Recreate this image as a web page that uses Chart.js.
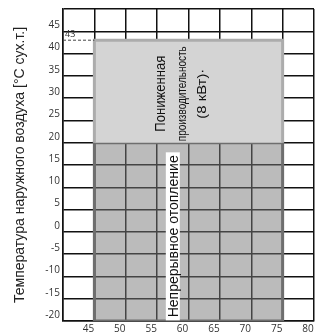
<!DOCTYPE html>
<html>
<head>
<meta charset="utf-8">
<script src="https://cdn.jsdelivr.net/npm/chart.js@4.4.1/dist/chart.umd.min.js"></script>
<style>
  html, body { margin: 0; padding: 0; background: #fff; }
  #wrap { width: 322px; height: 333px; position: relative; }
</style>
</head>
<body>
<div id="wrap"><canvas id="chart"></canvas></div>
<script>
// Water temperature range (x) and outdoor temperature bands (y)
const waterRange   = [45, 75];
const heatingBand  = [-20, 20];   // Непрерывное отопление
const reducedBand  = [20, 43];    // Пониженная производительность
const xTickLabels  = [45, 50, 55, 60, 65, 70, 75, 80];
const yTickLabels  = [45, 40, 35, 30, 25, 20, 15, 10, 5, 0, -5, -10, -15, -20];
const xAxisRange   = [40, 80];
const yAxisRange   = [-20, 50];

const boxPoints = (band) => [
    { x: waterRange[0], y: band[0] },
    { x: waterRange[0], y: band[1] },
    { x: waterRange[1], y: band[1] },
    { x: waterRange[1], y: band[0] }
];

// text labels drawn on top of the boxes
const textPlugin = {
    id: 'boxText',
    afterDatasetsDraw(chart) {
        const { ctx, scales: { x, y } } = chart;

        const rotated = (text, vx, vy, font, len, bg) => {
            ctx.save();
            ctx.translate(x.getPixelForValue(vx), y.getPixelForValue(vy));
            ctx.rotate(-Math.PI / 2);
            ctx.font = font;
            ctx.textAlign = 'center';
            ctx.textBaseline = 'middle';
            const w = ctx.measureText(text).width;
            if (len) ctx.scale(len / w, 1);
            if (bg) {
                ctx.fillStyle = bg;
                ctx.fillRect(-w / 2 - 3, -7, w + 6, 14);
            }
            ctx.fillStyle = '#111';
            ctx.fillText(text, 0, 1);
            ctx.restore();
        };

        rotated('Пониженная', 55.5, 31, '14px "Liberation Sans"', 76);
        rotated('производительность', 58.9, 31, '12px "Liberation Sans"', 95);
        rotated('(8 кВт)·', 62.1, 31, '13px "Liberation Sans"', 50);
        rotated('Непрерывное отопление', 57.5, -1, '14px "Liberation Sans"', 162, '#fff');

        // "43" marker above the dashed line
        ctx.save();
        ctx.font = '9px "Open Sans"';
        ctx.fillStyle = '#333';
        ctx.textAlign = 'left';
        ctx.textBaseline = 'bottom';
        ctx.fillText(String(reducedBand[1]), x.getPixelForValue(xAxisRange[0]) + 2, y.getPixelForValue(reducedBand[1]) - 1);
        ctx.restore();
    }
};

new Chart(document.getElementById('chart'), {
    type: 'scatter',
    data: {
        datasets: [
            {
                // continuous heating box (semi-transparent so the grid shows through)
                data: boxPoints(heatingBand),
                showLine: true,
                fill: { value: heatingBand[0] },
                backgroundColor: 'rgba(120,120,120,0.5)',
                borderColor: '#6e6e6e',
                borderWidth: 3,
                pointRadius: 0,
                order: 4
            },
            {
                // bottom edge of the heating box
                data: [{ x: waterRange[0], y: heatingBand[0] }, { x: waterRange[1], y: heatingBand[0] }],
                showLine: true,
                borderColor: '#6e6e6e',
                borderWidth: 3,
                pointRadius: 0,
                order: 3
            },
            {
                // reduced capacity box
                data: boxPoints(reducedBand),
                showLine: true,
                fill: { value: reducedBand[0] },
                backgroundColor: '#d4d4d4',
                borderColor: '#acacac',
                borderWidth: 3,
                pointRadius: 0,
                order: 2
            },
            {
                // dashed level line
                data: [{ x: xAxisRange[0], y: reducedBand[1] }, { x: waterRange[0], y: reducedBand[1] }],
                showLine: true,
                borderColor: '#444',
                borderWidth: 1,
                borderDash: [3, 2],
                pointRadius: 0,
                order: 1
            }
        ]
    },
    options: {
        responsive: true,
        maintainAspectRatio: false,
        animation: false,
        layout: { padding: { top: 4, right: 8, left: 0, bottom: 0 } },
        plugins: {
            legend: { display: false },
            tooltip: { enabled: false }
        },
        scales: {
            x: {
                type: 'linear',
                min: xAxisRange[0],
                max: xAxisRange[1],
                afterFit: s => { s.height = 12; },
                grid: { color: '#111', lineWidth: 1.5, drawTicks: false },
                border: { color: '#111', width: 1.5 },
                ticks: {
                    stepSize: 5,
                    padding: 2,
                    labelOffset: -6,
                    color: '#333',
                    font: { family: 'Open Sans', size: 10 },
                    callback: v => xTickLabels.includes(v) ? String(v) : ''
                }
            },
            y: {
                type: 'linear',
                min: yAxisRange[0],
                max: yAxisRange[1],
                afterFit: s => { s.width = 63; },
                grid: { color: '#111', lineWidth: 1.5, drawTicks: false },
                border: { color: '#111', width: 1.5 },
                ticks: {
                    stepSize: 5,
                    padding: 3,
                    labelOffset: -6,
                    color: '#333',
                    font: { family: 'Open Sans', size: 10 },
                    callback: v => yTickLabels.includes(v) ? String(v) : ''
                },
                title: {
                    display: true,
                    text: 'Температура наружного воздуха [°C сух.т.]',
                    color: '#222',
                    font: { family: 'Liberation Sans', size: 14 },
                    padding: { top: 12, bottom: 0 }
                }
            }
        }
    },
    plugins: [textPlugin]
});
</script>
</body>
</html>
